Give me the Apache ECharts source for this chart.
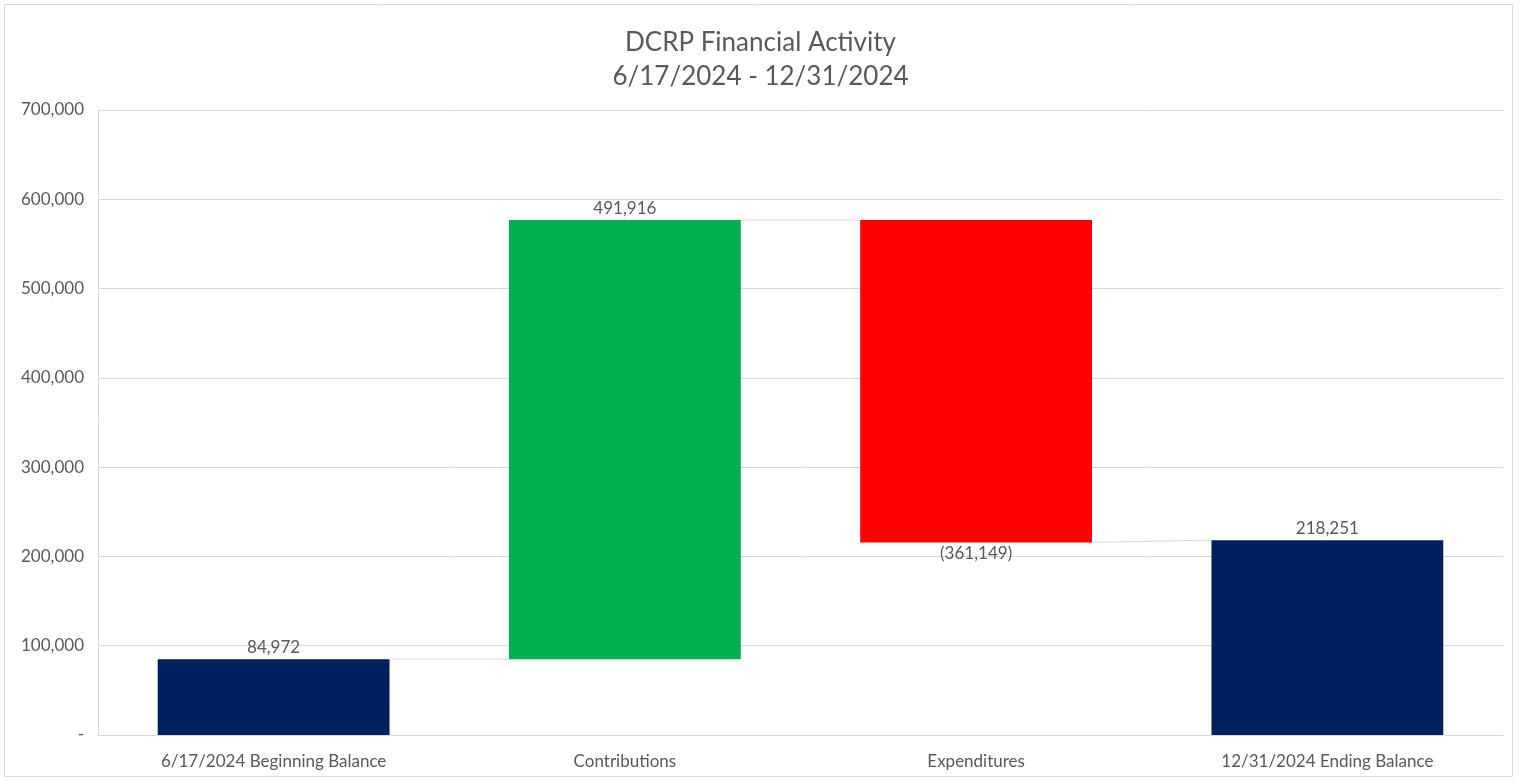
<!DOCTYPE html>
<html>
<head>
<meta charset="utf-8">
<script src="https://cdn.jsdelivr.net/npm/echarts@6/dist/echarts.min.js"></script>
<style>
	html,body{margin:0;padding:0;background:#fff;}
	#chart{width:1521px;height:782px;}
</style>
</head>
<body>
<div id="chart"></div>
<script>
// 数据
var categories = ['6/17/2024 Beginning Balance', 'Contributions', 'Expenditures', '12/31/2024 Ending Balance'];
var amounts = [84972, 491916, -361149, 218251];
var isTotal = [true, false, false, true];
var yTicks = [0, 100000, 200000, 300000, 400000, 500000, 600000, 700000];

var barColors = { total: '#002060', up: '#00B050', down: '#FF0000' };
var textColor = '#595959';
var fontName = 'Lato, "Open Sans", sans-serif';

function fmt(v) {
	var s = Math.abs(v).toString().replace(/\B(?=(\d{3})+(?!\d))/g, ',');
	return v < 0 ? '(' + s + ')' : s;
}

// 计算瀑布图的起止
var rows = [];
var running = 0;
for (var i = 0; i < amounts.length; i++) {
	var v = amounts[i], start, end;
	if (isTotal[i]) {
		start = v; end = v; running = v;
		rows.push([i, 0, v, start, end, v]);
	} else {
		start = running; end = running + v; running = end;
		rows.push([i, Math.min(start, end), Math.max(start, end), start, end, v]);
	}
}

var chart = echarts.init(document.getElementById('chart'));
var option = {
	backgroundColor: '#fff',
	animation: false,
	title: {
		text: 'DCRP Financial Activity\n6/17/2024 - 12/31/2024',
		left: 'center',
		top: 21,
		textStyle: { color: textColor, fontSize: 26, fontWeight: 'normal', lineHeight: 34, fontFamily: fontName }
	},
	graphic: [{
		type: 'rect',
		shape: { x: 4.5, y: 4.5, width: 1508, height: 772 },
		style: { fill: 'none', stroke: '#d9d9d9', lineWidth: 1 },
		silent: true
	}],
	grid: { left: 98, right: 18, top: 110, bottom: 47 },
	xAxis: {
		type: 'category',
		data: categories,
		axisTick: { show: false },
		axisLine: { show: true, lineStyle: { color: '#d9d9d9', width: 1 } },
		axisLabel: { color: textColor, fontSize: 17, fontFamily: fontName, margin: 18 },
		splitLine: { show: false }
	},
	yAxis: {
		type: 'value',
		min: yTicks[0],
		max: yTicks[yTicks.length - 1],
		interval: yTicks[1] - yTicks[0],
		axisTick: { show: false },
		axisLine: { show: true, lineStyle: { color: '#d9d9d9', width: 1 } },
		splitLine: { show: true, lineStyle: { color: '#d9d9d9', width: 1 } },
		axisLabel: {
			color: textColor, fontSize: 17, fontFamily: fontName, margin: 14,
			formatter: function (v) { return v === 0 ? '-' : fmt(v); }
		}
	},
	series: [{
		type: 'custom',
		data: rows,
		encode: { x: 0, y: [1, 2] },
		renderItem: function (params, api) {
			var idx = api.value(0);
			var lo = api.coord([idx, api.value(1)]);
			var hi = api.coord([idx, api.value(2)]);
			var bw = api.size([1, 0])[0] * 0.66;
			var x0 = lo[0] - bw / 2;
			var amt = api.value(5);
			var color = isTotal[idx] ? barColors.total : (amt >= 0 ? barColors.up : barColors.down);
			var children = [{
				type: 'rect',
				shape: { x: x0, y: hi[1], width: bw, height: lo[1] - hi[1] },
				style: { fill: color }
			}];
			// 数据标签
			if (amt >= 0) {
				children.push({
					type: 'text',
					style: { text: fmt(amt), x: lo[0], y: hi[1] - 3, align: 'center', verticalAlign: 'bottom', fill: textColor, fontSize: 17, fontFamily: fontName }
				});
			} else {
				children.push({
					type: 'text',
					style: { text: fmt(amt), x: lo[0], y: lo[1] + 3, align: 'center', verticalAlign: 'top', fill: textColor, fontSize: 17, fontFamily: fontName }
				});
			}
			// 连接线
			if (idx < rows.length - 1) {
				var endPt = api.coord([idx, api.value(4)]);
				var nextStart = api.coord([idx + 1, rows[idx + 1][3]]);
				children.push({
					type: 'line',
					shape: { x1: x0 + bw, y1: endPt[1], x2: nextStart[0] - bw / 2, y2: nextStart[1] },
					style: { stroke: '#d9d9d9', lineWidth: 1 }
				});
			}
			return { type: 'group', children: children };
		}
	}]
};
chart.setOption(option);
</script>
</body>
</html>
